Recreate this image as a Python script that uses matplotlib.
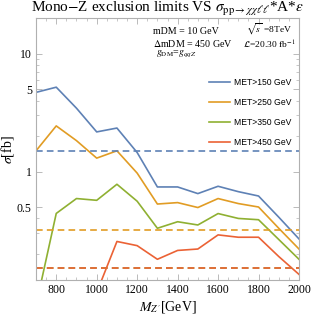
import numpy as np
import matplotlib
matplotlib.use("Agg")
import matplotlib.pyplot as plt
from matplotlib.ticker import FixedLocator, NullFormatter

plt.rcParams["mathtext.fontset"] = "stix"

# masses Z' (GeV) et limites sigma (fb)
mz = [700, 800, 900, 1000, 1100, 1200, 1300, 1400, 1500, 1600, 1700, 1800, 1900, 2000]
met150 = [4.7, 5.2, 3.45, 2.17, 2.34, 1.45, 0.74, 0.74, 0.65, 0.75, 0.675, 0.62, 0.41, 0.268]
met250 = [1.5, 2.44, 1.83, 1.30, 1.50, 0.97, 0.53, 0.545, 0.495, 0.59, 0.535, 0.50, 0.33, 0.22]
met350 = [0.073, 0.441, 0.59, 0.57, 0.78, 0.56, 0.33, 0.375, 0.352, 0.44, 0.40, 0.39, 0.265, 0.18]
mz450 = [1000, 1100, 1200, 1300, 1400, 1500, 1600, 1700, 1800, 1900, 2000]
met450 = [0.094, 0.255, 0.235, 0.18, 0.214, 0.22, 0.29, 0.277, 0.277, 0.19, 0.134]

# limites observees (traits pointilles)
lim150, lim250, lim350, lim450 = 1.5, 0.319, 0.152, 0.151

labels = ["MET>150 GeV", "MET>250 GeV", "MET>350 GeV", "MET>450 GeV"]
colors = ["#5E81B5", "#E19C24", "#8FB032", "#EB6235"]

fig = plt.figure(figsize=(3.11, 3.15), dpi=100)
ax = fig.add_axes([0.1158, 0.111, 0.8456, 0.831])

series = [(mz, met150), (mz, met250), (mz, met350), (mz450, met450)]
for (x, y), c, lab in zip(series, colors, labels):
    ax.plot(x, y, color=c, lw=1.2, label=lab)

for lim, c in zip([lim150, lim250, lim350, lim450], colors):
    ax.axhline(lim, color=c, lw=1.2, ls=(0, (4, 2.5)))

ax.set_yscale("log")
ax.set_xlim(700, 2000)
ax.set_ylim(0.12, 20)

ax.xaxis.set_major_locator(FixedLocator([800, 1000, 1200, 1400, 1600, 1800, 2000]))
ax.xaxis.set_minor_locator(FixedLocator(np.arange(700, 2001, 50)))
ax.yaxis.set_major_locator(FixedLocator([0.5, 1, 5, 10]))
ax.set_yticklabels(["0.5", "1", "5", "10"])
ax.yaxis.set_minor_locator(FixedLocator([0.2, 0.3, 0.4, 2, 3, 4, 6, 7, 8, 9, 20]))
ax.yaxis.set_minor_formatter(NullFormatter())

for s in ax.spines.values():
    s.set_color("#b0b0b0")
    s.set_linewidth(0.8)
ax.tick_params(which="both", direction="in", top=True, right=True, color="#b0b0b0",
               labelsize=8.5, pad=3)
ax.tick_params(which="major", length=4, width=0.6)
ax.tick_params(which="minor", length=2, width=0.5)
for t in ax.get_xticklabels() + ax.get_yticklabels():
    t.set_family("Liberation Serif")

ax.set_xlabel(r"$M_{Z'}$[GeV]", fontsize=10, family="Liberation Serif", labelpad=2)
ax.set_ylabel(r"$\sigma$[fb]", fontsize=10, family="Liberation Serif", labelpad=1)
ax.set_title(r"Mono$-$Z exclusion limits VS $\sigma_{\mathrm{pp}\rightarrow\chi\chi\ell\ell}$*A*$\epsilon$",
             fontsize=11, family="Liberation Serif", pad=3)

txt = dict(transform=ax.transAxes, family="Liberation Serif", fontsize=7.2, va="center")
ax.text(0.445, 0.948, "mDM = 10 GeV", **txt)
ax.text(0.445, 0.905, r"$\Delta$mDM = 450 GeV", **txt)
ax.text(0.455, 0.862, r"$g_{\mathrm{DM}}$=$g_{qqZ}$", **txt)
ax.text(0.80, 0.956, r"$\sqrt{s}$ =8TeV", **dict(txt, fontsize=6.8))
ax.text(0.788, 0.897, r"$\mathcal{L}$=20.30 fb$^{-1}$", **dict(txt, fontsize=6.8))

leg = ax.legend(loc="upper left", bbox_to_anchor=(0.63, 0.80), frameon=False,
                prop={"family": "Liberation Sans", "size": 6.2},
                handlelength=2.4, handletextpad=0.4, labelspacing=1.25)

fig.savefig("out.png", dpi=100)
